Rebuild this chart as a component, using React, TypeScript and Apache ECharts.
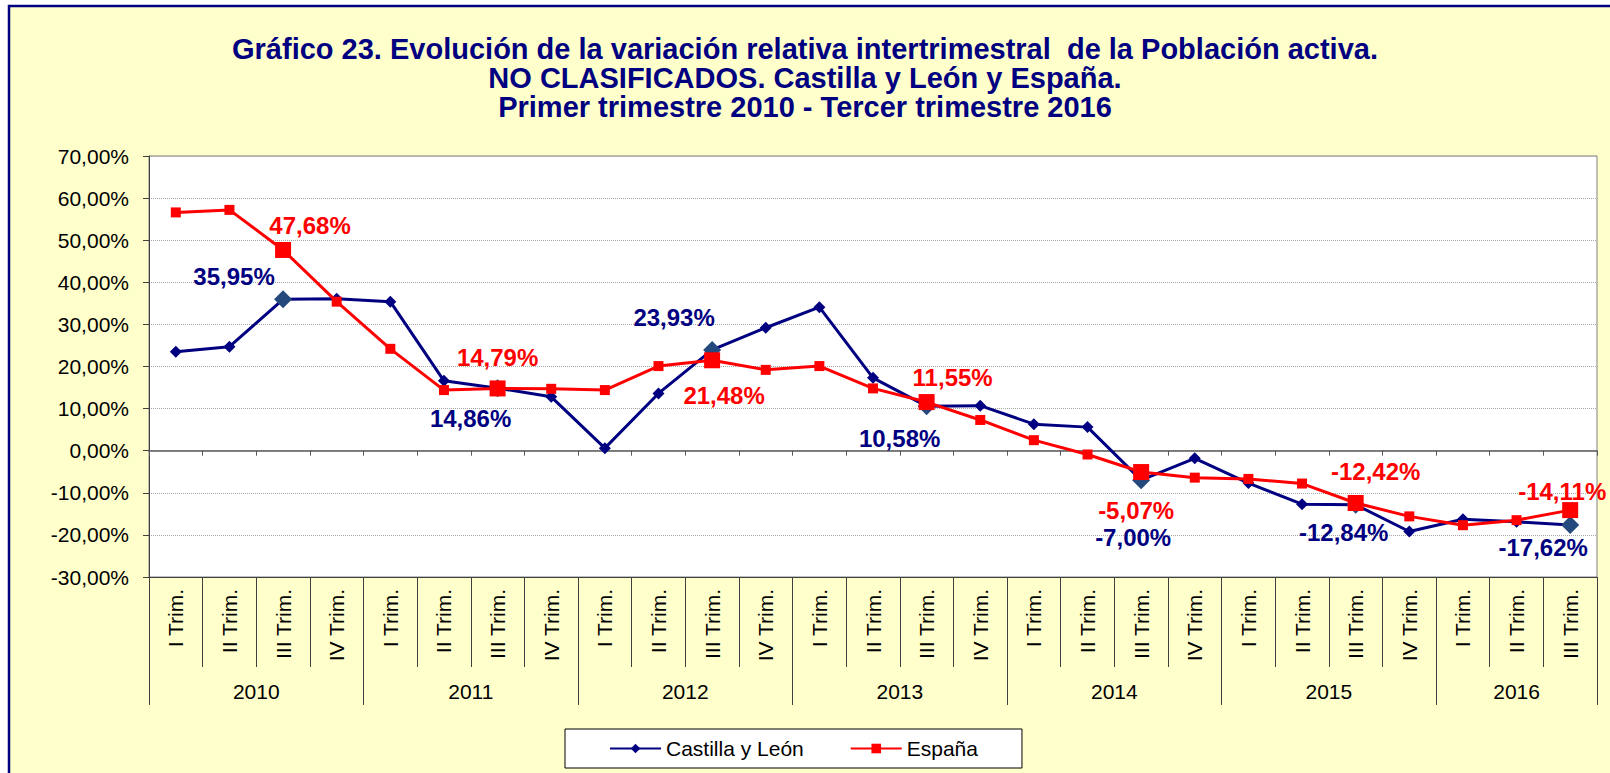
import React, { useEffect, useRef } from 'react';
import * as echarts from 'echarts';

// ---- data ----
const titleLines = [
  'Gráfico 23. Evolución de la variación relativa intertrimestral  de la Población activa.',
  'NO CLASIFICADOS. Castilla y León y España.',
  'Primer trimestre 2010 - Tercer trimestre 2016',
];
const years = ['2010', '2011', '2012', '2013', '2014', '2015', '2016'];
const quartersPerYear = [4, 4, 4, 4, 4, 4, 3];
const quarterNames = ['I Trim.', 'II Trim.', 'III Trim.', 'IV Trim.'];

const castillaLeon = [
  23.5, 24.7, 35.95, 36.1,
  35.4, 16.6, 14.86, 12.8,
  0.6, 13.6, 23.93, 29.2,
  34.1, 17.3, 10.58, 10.7,
  6.3, 5.6, -7.0, -1.8,
  -7.7, -12.7, -12.84, -19.2,
  -16.3, -16.9, -17.62,
];
const espana = [
  56.6, 57.2, 47.68, 35.4,
  24.2, 14.4, 14.79, 14.7,
  14.4, 20.1, 21.48, 19.2,
  20.1, 14.8, 11.55, 7.3,
  2.5, -0.9, -5.07, -6.4,
  -6.7, -7.8, -12.42, -15.6,
  -17.7, -16.5, -14.11,
];
const labelledPoints = [2, 6, 10, 14, 18, 22, 26];
const yMin = -30;
const yMax = 70;
const yStep = 10;

// ---- style config (label placement offsets in px) ----
const clLabelOffsets = [[-49, -23], [-27, 30], [-38, -32], [-27, 32], [-8, 57], [-12, 28], [-27, 23]];
const esLabelOffsets = [[27, -24], [0, -31], [12, 35], [26, -25], [-5, 38], [20, -31], [-8, -19]];

const FONT = '"Liberation Sans", Arial, Helvetica, sans-serif';

const categories: string[] = [];
years.forEach((y, j) => {
  for (let q = 0; q < quartersPerYear[j]; q++) categories.push(quarterNames[q]);
});

// year axis: half-quarter resolution points (boundaryGap false)
const halfCount = categories.length * 2 + 1;
const yearAxisData: string[] = new Array(halfCount).fill('');
const yearBoundaryIdx: number[] = [0];
const yearCenterIdx: number[] = [];
{
  let start = 0;
  years.forEach((y, j) => {
    const c = start * 2 + quartersPerYear[j];
    yearAxisData[c] = y;
    yearCenterIdx.push(c);
    start += quartersPerYear[j];
    yearBoundaryIdx.push(start * 2);
  });
}

const fmt = (v: number) => v.toFixed(2).replace('.', ',') + '%';

export default function App() {
  const ref = useRef<HTMLDivElement>(null);

  useEffect(() => {
    if (!ref.current) return;
    const chart = echarts.init(ref.current, undefined, { renderer: 'svg' });

    const clData = castillaLeon.map((v, i) => {
      const h = labelledPoints.indexOf(i);
      if (h < 0) return v;
      return {
        value: v,
        symbolSize: 18,
        itemStyle: { color: '#24497D' },
        label: { show: true, offset: clLabelOffsets[h] },
      };
    });
    const esData = espana.map((v, i) => {
      const h = labelledPoints.indexOf(i);
      if (h < 0) return v;
      return {
        value: v,
        symbolSize: 16,
        label: { show: true, offset: esLabelOffsets[h] },
      };
    });

    chart.setOption({
      animation: false,
      backgroundColor: '#ffffff',
      textStyle: { fontFamily: FONT },
      graphic: [
        {
          type: 'rect',
          z: -10,
          silent: true,
          shape: { x: 9, y: 6, width: 1700, height: 900 },
          style: { fill: '#FFFFCC', stroke: '#000080', lineWidth: 2.5 },
        },
      ],
      title: titleLines.map((t, i) => ({
        text: t,
        left: 'center',
        top: 34 + i * 29,
        padding: 0,
        textStyle: {
          fontFamily: FONT,
          fontSize: 29,
          fontWeight: 'bold',
          color: '#000080',
          lineHeight: 29,
        },
      })),
      legend: {
        left: 565,
        top: 729,
        orient: 'horizontal',
        backgroundColor: '#ffffff',
        borderColor: '#000000',
        borderWidth: 1,
        borderRadius: 0,
        padding: [9, 44, 9, 44],
        itemWidth: 51,
        itemHeight: 12,
        itemGap: 46,
        textStyle: { fontFamily: FONT, fontSize: 21, color: '#000000' },
        data: ['Castilla y León', 'España'],
      },
      grid: {
        left: 149,
        right: 13,
        top: 156,
        bottom: 196,
        show: true,
        backgroundColor: '#ffffff',
        borderColor: '#808080',
        borderWidth: 1,
        containLabel: false,
      },
      xAxis: [
        {
          type: 'category',
          data: categories,
          boundaryGap: true,
          axisLine: { show: true, onZero: true, lineStyle: { color: '#595959', width: 1.5 } },
          axisTick: { show: true, length: 5, interval: 0, lineStyle: { color: '#595959' } },
          axisLabel: { show: false },
          splitLine: { show: false },
        },
        {
          type: 'category',
          data: categories,
          position: 'bottom',
          boundaryGap: true,
          axisLine: { show: true, onZero: false, lineStyle: { color: '#404040', width: 1 } },
          axisTick: { show: true, length: 90, interval: 0, lineStyle: { color: '#404040' } },
          axisLabel: {
            show: true,
            interval: 0,
            rotate: 90,
            margin: 12,
            fontFamily: FONT,
            fontSize: 21,
            color: '#000000',
          },
          splitLine: { show: false },
        },
        {
          type: 'category',
          data: yearAxisData,
          position: 'bottom',
          boundaryGap: false,
          axisLine: { show: false, onZero: false },
          axisTick: {
            show: true,
            length: 128,
            interval: (i: number) => yearBoundaryIdx.indexOf(i) >= 0,
            lineStyle: { color: '#404040' },
          },
          axisLabel: {
            show: true,
            interval: (i: number) => yearCenterIdx.indexOf(i) >= 0,
            margin: 104,
            fontFamily: FONT,
            fontSize: 21,
            color: '#000000',
          },
          splitLine: { show: false },
        },
      ],
      yAxis: {
        type: 'value',
        min: yMin,
        max: yMax,
        interval: yStep,
        axisLine: { show: true, onZero: false, lineStyle: { color: '#404040', width: 1 } },
        axisTick: { show: true, length: 6, lineStyle: { color: '#404040' } },
        axisLabel: {
          formatter: (v: number) => fmt(v),
          margin: 20,
          fontFamily: FONT,
          fontSize: 21,
          color: '#000000',
        },
        splitLine: { show: true, lineStyle: { color: '#A6A6A6', type: 'dotted', width: 1 } },
      },
      series: [
        {
          name: 'Castilla y León',
          type: 'line',
          xAxisIndex: 0,
          data: clData,
          symbol: 'diamond',
          symbolSize: 12,
          color: '#000080',
          lineStyle: { color: '#000080', width: 3 },
          itemStyle: { color: '#000080' },
          label: {
            show: false,
            position: 'inside',
            formatter: (p: any) => fmt(p.value as number),
            fontFamily: FONT,
            fontSize: 24,
            fontWeight: 'bold',
            color: '#000080',
          },
          z: 3,
        },
        {
          name: 'España',
          type: 'line',
          xAxisIndex: 0,
          data: esData,
          symbol: 'rect',
          symbolSize: 10,
          color: '#FF0000',
          lineStyle: { color: '#FF0000', width: 3 },
          itemStyle: { color: '#FF0000' },
          label: {
            show: false,
            position: 'inside',
            formatter: (p: any) => fmt(p.value as number),
            fontFamily: FONT,
            fontSize: 24,
            fontWeight: 'bold',
            color: '#FF0000',
          },
          z: 4,
        },
      ],
    });

    return () => {
      chart.dispose();
    };
  }, []);

  return (
    <div
      ref={ref}
      style={{ position: 'fixed', left: 0, top: 0, width: 1610, height: 773, background: '#ffffff' }}
    />
  );
}
